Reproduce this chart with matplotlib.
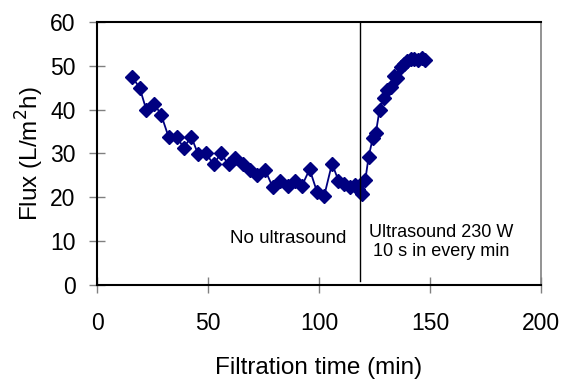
import numpy as np
import matplotlib.pyplot as plt

plt.rcParams['font.family'] = ['Liberation Sans', 'DejaVu Sans']

# filtration time (min) and permeate flux (L/m2h)
time_min = [15.8, 19.2, 22.2, 25.8, 29.0, 32.3, 36.0, 39.0, 42.5, 45.5,
            49.2, 52.5, 55.8, 59.3, 62.4, 65.7, 69.0, 72.2, 75.8, 79.1,
            82.6, 85.9, 89.0, 92.3, 95.8, 99.1, 102.3, 105.9, 108.8, 111.5,
            114.1, 116.3, 117.8, 119.4, 120.9, 122.4, 124.3, 125.6, 127.3, 129.1,
            130.6, 132.4, 133.9, 135.1, 137.0, 138.5, 139.8, 141.5, 143.0, 144.5,
            146.4, 148.0]
flux = [47.5, 45.0, 40.0, 41.4, 38.7, 33.7, 33.8, 31.3, 33.8, 29.9,
        30.0, 27.5, 30.0, 27.5, 28.9, 27.5, 26.2, 25.1, 26.2, 22.4,
        23.8, 22.6, 23.8, 22.6, 26.4, 21.3, 20.2, 27.7, 23.8, 23.0,
        22.3, 22.8, 21.8, 20.7, 24.0, 29.3, 33.6, 34.6, 39.9, 42.6,
        44.5, 45.2, 47.6, 47.2, 49.8, 50.5, 51.0, 51.5, 51.6, 51.4,
        51.7, 51.4]
us_start = 118.5

fig = plt.figure(figsize=(5.64, 3.79), dpi=100)
ax = fig.add_axes([0.172, 0.248, 0.787, 0.694])

ax.plot(time_min, flux, color='#000080', lw=1.3, marker='D', ms=7,
        markeredgecolor='#000080', markerfacecolor='#000080')
ax.plot([us_start, us_start], [1, 60], color='black', lw=1)

ax.text(86, 10.7, 'No ultrasound', ha='center', va='center', fontsize=13.5)
ax.text(155, 9.8, 'Ultrasound 230 W\n10 s in every min', ha='center',
        va='center', fontsize=13, linespacing=1.2)

ax.set_xlim(0, 200)
ax.set_ylim(0, 60)
ax.set_xticks(np.arange(0, 201, 50))
ax.set_yticks(np.arange(0, 61, 10))
ax.tick_params(axis='x', direction='inout', length=11, width=1, color='#808080',
               pad=14, labelsize=16.5)
ax.tick_params(axis='y', direction='inout', length=11, width=1, color='#808080',
               pad=10, labelsize=16.5)
for s in ['left', 'bottom', 'top']:
    ax.spines[s].set_linewidth(1.5)
    ax.spines[s].set_color('black')
ax.spines['right'].set_color('#808080')
ax.spines['right'].set_linewidth(1.2)

ax.set_xlabel('Filtration time (min)', fontsize=17.5, labelpad=16)
ax.set_ylabel('Flux (L/m$^2$h)', fontsize=17.5, labelpad=3)

fig.savefig('out.png', dpi=100)
